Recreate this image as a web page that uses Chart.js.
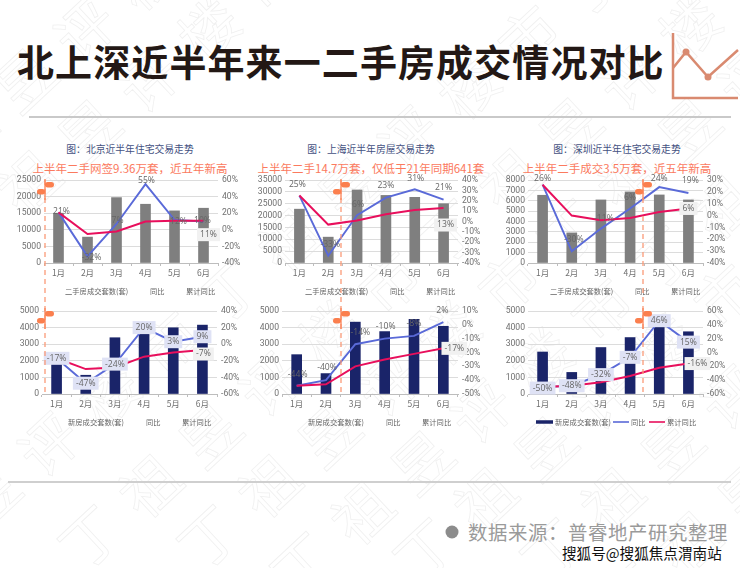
<!DOCTYPE html>
<html lang="zh-CN">
<head>
<meta charset="utf-8">
<title>北上深近半年来一二手房成交情况对比</title>
<script src="https://cdn.jsdelivr.net/npm/chart.js@4"></script>
<style>
  html, body { margin: 0; padding: 0; background: #fff; }
  body { width: 740px; height: 568px; position: relative; overflow: hidden; font-family: "Noto Sans CJK SC", sans-serif; }
  canvas { position: absolute; }
  svg { position: absolute; left: 0; top: 0; }
  .txt { position: absolute; white-space: nowrap; }
  .main { left: 17px; top: 35px; font-size: 37px; line-height: 52px; font-weight: 700; letter-spacing: 1.1px; color: #231815; }
  .fig { font-size: 9.8px; line-height: 14px; color: #44517f; transform: translateX(-50%); }
  .sub { font-size: 11.5px; line-height: 16px; color: #fb7a5e; transform: translateX(-50%); }
  .src { left: 468px; top: 518px; font-size: 19.4px; line-height: 28px; color: #9a9a9a; letter-spacing: .6px; }
  .sohu { left: 562px; top: 544px; font-size: 14.6px; line-height: 18px; color: #111; text-shadow: 0 0 2px #fff, 0 0 2px #fff; }
</style>
</head>
<body>
<svg id="marks" width="740" height="568"></svg>
<div class="txt main">北上深近半年来一二手房成交情况对比</div>
<div class="txt src">数据来源：普睿地产研究整理</div>
<div class="txt sohu">搜狐号@搜狐焦点渭南站</div>

<script>
const months = ["1月", "2月", "3月", "4月", "5月", "6月"];

const bjUsedBars = [15000, 7800, 19700, 17700, 15700, 16500];
const bjUsedYoy = [21, -32, 7, 55, 12, 10];
const bjUsedCum = [21, -5, -2, 10, 11, 11];

const shUsedBars = [22700, 10900, 30800, 28500, 27700, 25000];
const shUsedYoy = [25, -33, 6, 23, 31, 21];
const shUsedCum = [25, -3, 1, 7, 11, 13];

const szUsedBars = [6530, 2900, 6080, 6850, 6560, 6080];
const szUsedYoy = [26, -30, -11, 6, 24, 19];
const szUsedCum = [26, 0, -4, -2, 3, 6];

const bjNewBars = [1800, 1130, 3390, 3650, 3990, 4150];
const bjNewYoy = [-17, -47, -24, 20, 3, 9];
const bjNewCum = [-17, -30, -28, -15, -10, -7];

const shNewBars = [2370, 1230, 4330, 3760, 4500, 4080];
const shNewYoy = [-44, -40, -14, -10, -8, 2];
const shNewCum = [-44, -43, -30, -25, -21, -17];

const szNewBars = [2530, 1300, 2800, 3400, 4200, 3750];
const szNewYoy = [-50, -48, -32, -7, 46, 15];
const szNewCum = [-50, -48, -43, -34, -22, -16];

const usedLabel = "二手房成交套数(套)";
const newLabel = "新房成交套数(套)";
const yoyLabel = "同比";
const cumLabel = "累计同比";

const GRAY = "#7f7f7f";
const NAVY = "#1a2469";
const BLUE = "#5a6ad8";
const PINK = "#e80f5c";
const LAVENDER = "#dfe2f5";
const LIGHT = "#f1f1f1";

const LEFT_W = 40, RIGHT_W = 40, TOP_H = 14, BOTTOM_H = 44;

const panels = [
  { id: "bjUsed", box: [44, 218, 180, 263], bars: bjUsedBars, yoy: bjUsedYoy, cum: bjUsedCum, barColor: GRAY, barLabel: usedLabel,
    max: 25000, step: 5000, rMin: -40, rMax: 60, rStep: 20, boxed: false,
    yoyOff: [[3, -1], [4, 1], [1, -3], [1, -4], [4, 2], [-1, -1]], cumOff: [5, 14],
    legendX: [65, 150, 186] },
  { id: "shUsed", box: [285, 458, 180, 263], bars: shUsedBars, yoy: shUsedYoy, cum: shUsedCum, barColor: GRAY, barLabel: usedLabel,
    max: 35000, step: 5000, rMin: -40, rMax: 40, rStep: 10, boxed: false,
    yoyOff: [[-2, -11], [2, -11], [1, -11], [0, -12], [1, -11], [0, -12]], cumOff: [2, 17],
    legendX: [305, 390, 426] },
  { id: "szUsed", box: [528, 703, 180, 263], bars: szUsedBars, yoy: szUsedYoy, cum: szUsedCum, barColor: GRAY, barLabel: usedLabel,
    max: 8000, step: 1000, rMin: -40, rMax: 30, rStep: 10, boxed: false,
    yoyOff: [[0, -6], [2, -12], [3, -10], [0, -11], [0, -9], [2, -12]], cumOff: [0, 0],
    legendX: [550, 635, 671] },
  { id: "bjNew", box: [42, 217, 311, 394], bars: bjNewBars, yoy: bjNewYoy, cum: bjNewCum, barColor: NAVY, barLabel: newLabel,
    max: 5000, step: 1000, rMin: -60, rMax: 40, rStep: 20, boxed: true,
    yoyOff: [[0, 0], [0, 0], [0, 0], [0, 0], [0, 0], [0, 0]], cumOff: [1, 4],
    legendX: [68, 146, 182] },
  { id: "shNew", box: [282, 458, 311, 394], bars: shNewBars, yoy: shNewYoy, cum: shNewCum, barColor: NAVY, barLabel: newLabel,
    max: 5000, step: 1000, rMin: -50, rMax: 10, rStep: 10, boxed: false,
    yoyOff: [[1, -11], [1, -13], [5, -12], [1, -12], [0, -12], [-1, -12]], cumOff: [11, 0],
    legendX: [308, 386, 422] },
  { id: "szNew", box: [528, 703, 311, 394], bars: szNewBars, yoy: szNewYoy, cum: szNewCum, barColor: NAVY, barLabel: newLabel,
    max: 5000, step: 1000, rMin: -60, rMax: 60, rStep: 20, boxed: true,
    yoyOff: [[0, 1], [0, 0], [0, 0], [0, 0], [0, 0], [0, 0]], cumOff: [9, 0],
    legendX: [555, 631, 667], legendKeys: true }
];

const headings = [
  { x: 130, fig: "图：北京近半年住宅交易走势", sub: "上半年二手网签9.36万套，近五年新高" },
  { x: 371, fig: "图：上海近半年房屋交易走势", sub: "上半年二手14.7万套，仅低于21年同期641套" },
  { x: 617, fig: "图：深圳近半年住宅交易走势", sub: "上半年二手成交3.5万套，近五年新高" }
];

function addText(cls, x, y, text) {
  const el = document.createElement("div");
  el.className = "txt " + cls;
  el.style.left = x + "px";
  el.style.top = y + "px";
  el.textContent = text;
  document.body.appendChild(el);
}

function drawLabel(ctx, text, x, y, bg) {
  ctx.font = '8.6px "Open Sans", sans-serif';
  ctx.textAlign = "center";
  ctx.textBaseline = "middle";
  if (bg) {
    const w = ctx.measureText(text).width + 6;
    ctx.fillStyle = bg;
    ctx.fillRect(x - w / 2, y - 6.5, w, 13);
  }
  ctx.fillStyle = "#666";
  ctx.fillText(text, x, y);
}

// value labels on the lines, no datalabels plugin here
const valueLabels = {
  id: "valueLabels",
  afterDatasetsDraw(chart, args, opts) {
    const p = opts.panel;
    const ctx = chart.ctx;
    const yoyMeta = chart.getDatasetMeta(1);
    const cumMeta = chart.getDatasetMeta(2);
    ctx.save();
    p.yoy.forEach((v, i) => {
      const pt = yoyMeta.data[i];
      drawLabel(ctx, v + "%", pt.x + p.yoyOff[i][0], pt.y + p.yoyOff[i][1], p.boxed ? LAVENDER : null);
    });
    const last = cumMeta.data[5];
    drawLabel(ctx, p.cum[5] + "%", last.x + p.cumOff[0], last.y + p.cumOff[1], LIGHT);
    ctx.restore();
  }
};

// text row under the axis, with keys only where the source has them
const legendRow = {
  id: "legendRow",
  afterDraw(chart, args, opts) {
    const p = opts.panel;
    const ctx = chart.ctx;
    const originX = p.box[0] - LEFT_W;
    const y = chart.chartArea.bottom + 28;
    ctx.save();
    ctx.font = '7.3px "Noto Sans CJK SC", sans-serif';
    ctx.textBaseline = "middle";
    ctx.textAlign = "left";
    chart.data.datasets.forEach((ds, i) => {
      const x = p.legendX[i] - originX;
      ctx.fillStyle = "#666";
      ctx.fillText(ds.label, x, y);
      if (p.legendKeys) {
        ctx.strokeStyle = ds.borderColor || ds.backgroundColor;
        ctx.lineWidth = i === 0 ? 3.5 : 1.6;
        ctx.beginPath();
        ctx.moveTo(x - (i === 0 ? 19 : 18), y);
        ctx.lineTo(x - 2, y);
        ctx.stroke();
      }
    });
    ctx.restore();
  }
};

function renderPanel(p) {
  const [x0, x1, yTop, yBottom] = p.box;
  const canvas = document.createElement("canvas");
  const w = x1 - x0 + LEFT_W + RIGHT_W;
  const h = yBottom - yTop + TOP_H + BOTTOM_H;
  canvas.id = p.id;
  canvas.width = w;
  canvas.height = h;
  canvas.style.left = x0 - LEFT_W + "px";
  canvas.style.top = yTop - TOP_H + "px";
  canvas.style.width = w + "px";
  canvas.style.height = h + "px";
  document.body.appendChild(canvas);

  return new Chart(canvas, {
    type: "bar",
    data: {
      labels: months,
      datasets: [
        { type: "bar", label: p.barLabel, data: p.bars, backgroundColor: p.barColor, barThickness: 10, yAxisID: "y", order: 3 },
        { type: "line", label: yoyLabel, data: p.yoy, borderColor: BLUE, borderWidth: 1.9, pointRadius: 0, tension: 0, yAxisID: "y1", order: 2 },
        { type: "line", label: cumLabel, data: p.cum, borderColor: PINK, borderWidth: 2, pointRadius: 0, tension: 0, yAxisID: "y1", order: 1 }
      ]
    },
    plugins: [valueLabels, legendRow],
    options: {
      responsive: false,
      animation: false,
      layout: { padding: { top: TOP_H, left: 0, right: 0, bottom: 0 } },
      plugins: {
        legend: { display: false },
        title: { display: false },
        tooltip: { enabled: false },
        valueLabels: { panel: p },
        legendRow: { panel: p }
      },
      scales: {
        x: {
          offset: true,
          afterFit: scale => { scale.height = BOTTOM_H; },
          grid: { drawOnChartArea: false, tickLength: 3, color: "#bdbdbd" },
          border: { color: "#bdbdbd" },
          ticks: { color: "#707070", font: { size: 8.5, family: '"Noto Sans CJK SC", sans-serif' }, padding: 2, maxRotation: 0 }
        },
        y: {
          position: "left",
          min: 0,
          max: p.max,
          afterFit: scale => { scale.width = LEFT_W; },
          grid: { color: "#dcdcdc", drawTicks: false },
          border: { display: false },
          ticks: { stepSize: p.step, autoSkip: false, color: "#707070", padding: 3, font: { size: 8.6, family: "Roboto, sans-serif" }, callback: v => String(v) }
        },
        y1: {
          position: "right",
          min: p.rMin,
          max: p.rMax,
          afterFit: scale => { scale.width = RIGHT_W; },
          grid: { drawOnChartArea: false, drawTicks: false },
          border: { display: false },
          ticks: { stepSize: p.rStep, autoSkip: false, color: "#707070", padding: 4, font: { size: 8.6, family: "Roboto, sans-serif" }, callback: v => v + "%" }
        }
      }
    }
  });
}

// rules, corner icon and the faint background mark
function drawMarks() {
  const parts = [];
  const wmChars = "丁祖昱评楼市";
  const wmStarts = [[-133, 595], [-97, 180], [-33, 231], [88, 535], [207, 535], [300, 562], [423, 548], [550, 548], [627, 592]];
  wmStarts.forEach(([sx, sy]) => {
    for (let i = 0; i < 14; i++) {
      const cx = sx + i * 60, cy = sy - i * 51;
      if (cx < -40 || cx > 780 || cy < -40) continue;
      parts.push(`<text x="${cx}" y="${cy}" transform="rotate(-43 ${cx} ${cy})" text-anchor="middle" dominant-baseline="central" font-family="Noto Sans CJK SC" font-size="58" font-weight="400" fill="#fff" stroke="#f0f0f0" stroke-width="0.8">${wmChars[i % 6]}</text>`);
    }
  });
  parts.push('<rect x="29" y="116" width="702" height="2" fill="#c9c9c9"/>');
  parts.push('<rect x="8" y="481" width="723" height="2" fill="#cfcfcf"/>');
  parts.push('<circle cx="452" cy="532" r="6.5" fill="#8c8c8c"/>');
  parts.push('<path d="M673 33V98H738" fill="none" stroke="#d98a70" stroke-width="2.5"/>');
  parts.push('<path d="M673 68L686 52L708 77L738 50" fill="none" stroke="#d98a70" stroke-width="2.5"/>');
  parts.push('<circle cx="686" cy="52" r="3.5" fill="#d98a70"/><circle cx="708" cy="77" r="3.5" fill="#d98a70"/>');
  document.getElementById("marks").innerHTML = parts.join("");
}

// dashed markers and flags go over the charts
function drawDividers() {
  const svg = document.createElementNS("http://www.w3.org/2000/svg", "svg");
  svg.setAttribute("width", 740);
  svg.setAttribute("height", 568);
  const parts = [];
  [45, 341, 643].forEach(x => {
    parts.push(`<line x1="${x}" y1="180" x2="${x}" y2="393" stroke="#fb9a78" stroke-width="1.3" stroke-dasharray="5 4"/>`);
    [179, 308].forEach(y => {
      parts.push(`<line x1="${x}" y1="${y}" x2="${x}" y2="${y + 21}" stroke="#fb8a62" stroke-width="1.4"/>`);
      parts.push(`<rect x="${x}" y="${y + 3}" width="9" height="5.5" rx="2.7" fill="#fb7f4e"/>`);
      parts.push(`<rect x="${x - 8}" y="${y + 10}" width="8" height="5.5" rx="2.7" fill="#fb7f4e"/>`);
    });
  });
  svg.innerHTML = parts.join("");
  document.body.appendChild(svg);
}

drawMarks();
headings.forEach(h => {
  addText("fig", h.x, 142, h.fig);
  addText("sub", h.x, 160, h.sub);
});
panels.forEach(renderPanel);
drawDividers();
</script>
</body>
</html>
